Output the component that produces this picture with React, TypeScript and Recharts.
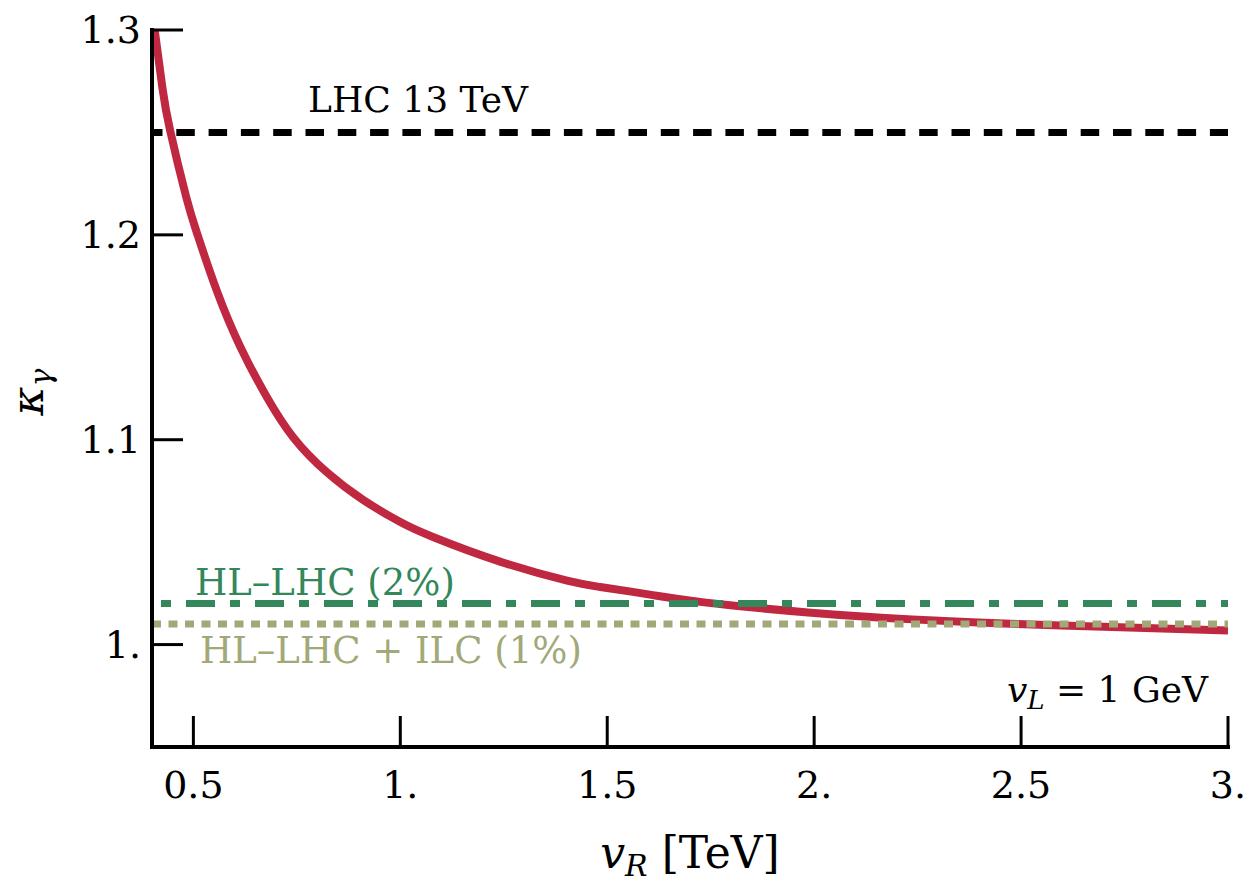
import React from "react";
import { LineChart, Line, XAxis, YAxis, ReferenceLine } from "recharts";

// kappa_gamma as a function of v_R (TeV), for v_L = 1 GeV
const vR = [
  0.4065, 0.425, 0.4435, 0.4823, 0.51, 0.556, 0.613, 0.677, 0.742, 0.822,
  0.911, 1.0, 1.079, 1.241, 1.403, 1.483, 1.603, 1.734, 1.985, 2.237, 2.49,
  2.74, 3.0,
];
const kappaGamma = [
  1.3, 1.272, 1.2512, 1.2187, 1.2, 1.173, 1.1455, 1.121, 1.101, 1.0842,
  1.0705, 1.0598, 1.0525, 1.0405, 1.0312, 1.0281, 1.0244, 1.0206, 1.0157,
  1.0123, 1.0101, 1.0084, 1.0069,
];

// experimental sensitivities
const lhc13 = 1.25;
const hlLhc = 1.02;
const hlLhcIlc = 1.01;

const xTicks = [0.5, 1, 1.5, 2, 2.5, 3];
const xTickLabels = ["0.5", "1.", "1.5", "2.", "2.5", "3."];
const yTicks = [1, 1.1, 1.2, 1.3];
const yTickLabels = ["1.", "1.1", "1.2", "1.3"];

const data = vR.map((v, i) => ({ v, kappa: kappaGamma[i] }));

const FONT = "'DejaVu Serif', serif";
const RED = "#BF2840";
const GREEN = "#33875A";
const OLIVE = "#A2A877";
const TICK = 31;

const BottomTick = (p: any) => {
  const { x, y, payload } = p;
  const label = xTickLabels[xTicks.indexOf(payload.value)];
  return (
    <g>
      <line x1={x} y1={y} x2={x} y2={y - TICK} stroke="#000" strokeWidth={3} />
      <text x={x} y={y + 51} textAnchor="middle" fontSize={38} fontFamily={FONT} fill="#000">
        {label}
      </text>
    </g>
  );
};

const TopTick = (p: any) => {
  const { x, y } = p;
  return <line x1={x} y1={y} x2={x} y2={y + TICK} stroke="#000" strokeWidth={3} />;
};

const LeftTick = (p: any) => {
  const { x, y, payload } = p;
  const label = yTickLabels[yTicks.indexOf(payload.value)];
  return (
    <g>
      <line x1={x} y1={y} x2={x + TICK} y2={y} stroke="#000" strokeWidth={3} />
      <text x={x - 11} y={y + 13} textAnchor="end" fontSize={38} fontFamily={FONT} fill="#000">
        {label}
      </text>
    </g>
  );
};

const RightTick = (p: any) => {
  const { x, y } = p;
  return <line x1={x} y1={y} x2={x - TICK} y2={y} stroke="#000" strokeWidth={3} />;
};

const XLabel = () => (
  <text x={690} y={868} textAnchor="middle" fontSize={44} fontFamily={FONT} fill="#000">
    <tspan fontStyle="italic">v</tspan>
    <tspan fontStyle="italic" fontSize={30} dy={8}>R</tspan>
    <tspan dy={-8}> [TeV]</tspan>
  </text>
);

const YLabel = () => (
  <text
    x={43}
    y={392}
    transform="rotate(-90, 43, 392)"
    textAnchor="middle"
    fontSize={44}
    fontFamily={FONT}
    fill="#000"
  >
    <tspan fontStyle="italic">κ</tspan>
    <tspan fontStyle="italic" fontSize={30} dy={8}>γ</tspan>
  </text>
);

const frame = { stroke: "#000", strokeWidth: 4, strokeLinecap: "square" as const };

const lineLabel =
  (text: string, color: string, dx: number, dy: number, size: number) => (p: any) => {
    const vb = p.viewBox || {};
    return (
      <text x={(vb.x ?? 152) + dx} y={(vb.y ?? 0) + dy} fontSize={size} fontFamily={FONT} fill={color}>
        {text}
      </text>
    );
  };

export default function App() {
  return (
    <div style={{ position: "absolute", left: 0, top: 0, width: 1250, height: 890, background: "#fff" }}>
      <LineChart width={1250} height={890} data={data} margin={{ top: 30, right: 22, bottom: 0, left: 0 }}>
        <XAxis
          dataKey="v"
          type="number"
          domain={[0.4, 3]}
          ticks={xTicks}
          allowDataOverflow
          height={143}
          tickSize={0}
          tickMargin={0}
          tickLine={false}
          axisLine={frame}
          tick={BottomTick}
          interval={0}
          label={<XLabel />}
        />
        <XAxis
          xAxisId="top"
          orientation="top"
          dataKey="v"
          type="number"
          domain={[0.4, 3]}
          ticks={xTicks}
          allowDataOverflow
          height={0}
          tickSize={0}
          tickMargin={0}
          tickLine={false}
          axisLine={frame}
          tick={TopTick}
          interval={0}
        />
        <YAxis
          type="number"
          domain={[0.95, 1.3]}
          ticks={yTicks}
          allowDataOverflow
          width={152}
          tickSize={0}
          tickMargin={0}
          tickLine={false}
          axisLine={frame}
          tick={LeftTick}
          interval={0}
          label={<YLabel />}
        />
        <YAxis
          yAxisId="right"
          orientation="right"
          type="number"
          domain={[0.95, 1.3]}
          ticks={yTicks}
          allowDataOverflow
          width={0}
          tickSize={0}
          tickMargin={0}
          tickLine={false}
          axisLine={frame}
          tick={RightTick}
          interval={0}
        />
        <Line
          type="natural"
          dataKey="kappa"
          stroke={RED}
          strokeWidth={8}
          dot={false}
          activeDot={false}
          isAnimationActive={false}
        />
        <ReferenceLine
          y={lhc13}
          stroke="#000"
          strokeWidth={7}
          strokeDasharray="18.5 13.8"
          strokeDashoffset={8}
          label={lineLabel("LHC 13 TeV", "#000", 156, -20, 36)}
        />
        <ReferenceLine
          y={hlLhc}
          stroke={GREEN}
          strokeWidth={7}
          strokeDasharray="29 15 10 15"
          strokeDashoffset={35}
          label={lineLabel("HL–LHC (2%)", GREEN, 43, -9, 37)}
        />
        <ReferenceLine
          y={hlLhcIlc}
          stroke={OLIVE}
          strokeWidth={7}
          strokeDasharray="9 7.5"
          label={lineLabel("HL–LHC + ILC (1%)", OLIVE, 48, 39, 37)}
        />
        <text x={1208} y={702} textAnchor="end" fontSize={36} fontFamily={FONT} fill="#000">
          <tspan fontStyle="italic">v</tspan>
          <tspan fontStyle="italic" fontSize={26} dy={7}>L</tspan>
          <tspan dy={-7}> = 1 GeV</tspan>
        </text>
      </LineChart>
    </div>
  );
}
